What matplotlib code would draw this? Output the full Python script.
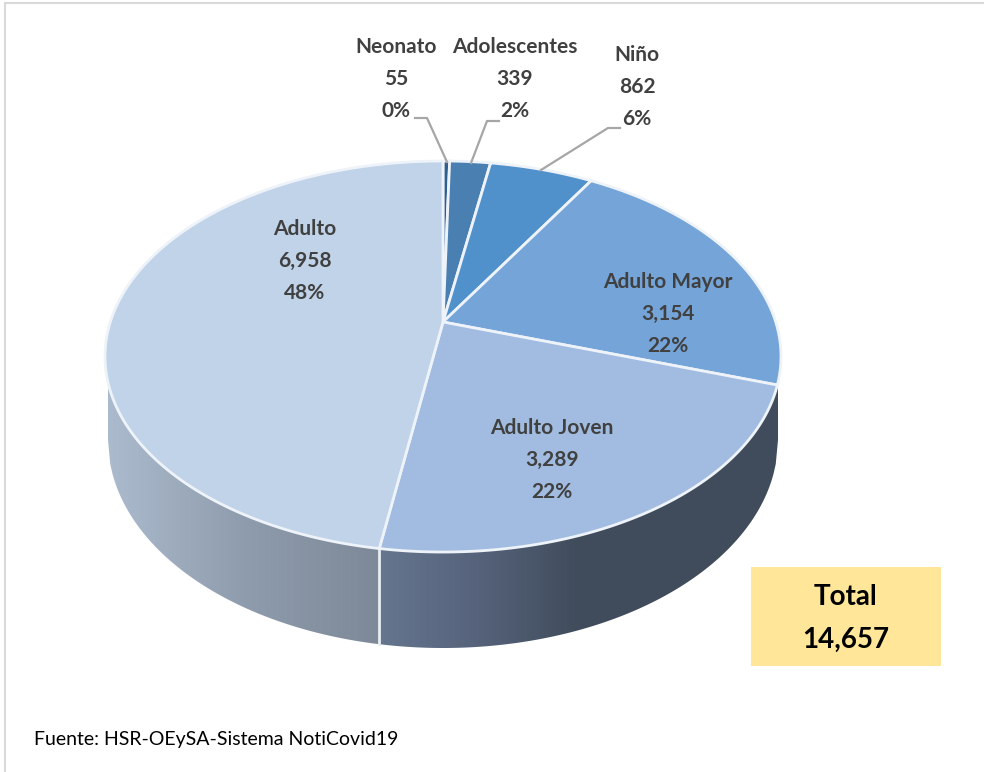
import numpy as np
import matplotlib
matplotlib.use('Agg')
import matplotlib.pyplot as plt
from matplotlib.colors import LinearSegmentedColormap
from matplotlib.patches import Polygon, Rectangle

# clockwise from the top of the pie
labels = ['Neonato', 'Adolescentes', 'Niño', 'Adulto Mayor', 'Adulto Joven', 'Adulto']
values = [55, 339, 862, 3154, 3289, 6958]
shown_values = ['55', '339', '862', '3,154', '3,289', '6,958']
shown_pct = ['0%', '2%', '6%', '22%', '22%', '48%']
colors = ['#2f5f8f', '#4a7fb2', '#5191cb', '#74a4d8', '#a1bce0', '#c0d3e8']
total_text = '14,657'
source = 'Fuente: HSR-OEySA-Sistema NotiCovid19'

plt.rcParams['font.family'] = ['Lato', 'DejaVu Sans']

# pie geometry in pixels, tilted with a perspective projection
cx, cy, s, persp, by = 443, 322, 332.7, 0.1765, -132.6
# bottom edge of the wall
wall_a, wall_cy, wall_b = 335, 440, 208


def project(theta):
    u, v = np.sin(theta), np.cos(theta)
    d = 1 + persp * v
    return cx + s * u / d, (cy + by * v) / d


fig = plt.figure(figsize=(9.84, 7.72), dpi=100)
ax = fig.add_axes([0, 0, 1, 1])

# walls
xs = np.linspace(-1, 1, 300)
wall_x = cx + wall_a * xs
wall_y = wall_cy + wall_b * np.sqrt(1 - xs ** 2)
wall_pts = np.column_stack([np.r_[wall_x, wall_x[-1], wall_x[0]], np.r_[wall_y, 356, 356]])
wall = Polygon(wall_pts, closed=True, fc='none', ec='none')
ax.add_patch(wall)

frac = np.cumsum([0] + values) / sum(values)
angles = 2 * np.pi * frac
split_x, split_y = project(angles[5])

left_cm = LinearSegmentedColormap.from_list('l', ['#abbbcd', '#8f9cad', '#7d8998'])
right_cm = LinearSegmentedColormap.from_list('r', ['#66768f', '#55627a', '#404c5b'])
grad = np.linspace(0, 1, 256).reshape(1, -1)
im1 = ax.imshow(grad, cmap=left_cm, extent=[cx - wall_a, split_x, 700, 300], aspect='auto', zorder=1)
im2 = ax.imshow(grad, cmap=right_cm, extent=[split_x, 580, 700, 300], aspect='auto', zorder=1)
im3 = ax.imshow(np.ones((1, 2)), cmap=LinearSegmentedColormap.from_list('d', ['#404c5b', '#404c5b']),
                extent=[580, cx + wall_a, 700, 300], aspect='auto', zorder=1)
for im in (im1, im2, im3):
    im.set_clip_path(wall)
ax.plot([split_x, split_x], [split_y, wall_cy + wall_b * np.sqrt(1 - ((split_x - cx) / wall_a) ** 2)],
        color='#e8edf3', lw=2, zorder=2)

# top face
for i in range(len(values)):
    t = np.linspace(angles[i], angles[i + 1], 200)
    px, py = project(t)
    pts = np.column_stack([np.r_[cx, px], np.r_[cy, py]])
    ax.add_patch(Polygon(pts, closed=True, fc=colors[i], ec='#eef3f9', lw=2, zorder=3))

# labels
label_pos = [(396, 47), (515, 47), (637, 55), (668, 282), (552, 428), (305, 229)]
for i in range(len(values)):
    x, y = label_pos[i]
    for k, txt in enumerate([labels[i], shown_values[i], shown_pct[i]]):
        ax.text(x, y + k * 32, txt, ha='center', va='center', fontsize=15,
                fontweight='bold', color='#404040', zorder=5)

# leader lines
leader_x = [[415, 427, 447], [499, 487, 471], [620, 608, 541]]
leader_y = [[118, 118, 162], [121, 121, 163], [128, 128, 170]]
for lx, ly in zip(leader_x, leader_y):
    ax.plot(lx, ly, color='#a6a6a6', lw=1.6, zorder=4)

# total box
ax.add_patch(Rectangle((751, 567), 190, 99, fc='#ffe699', ec='none', zorder=3))
ax.text(846, 597, 'Total', ha='center', va='center', fontsize=20, fontweight='bold', color='black', zorder=5)
ax.text(846, 640, total_text, ha='center', va='center', fontsize=20, fontweight='bold', color='black', zorder=5)

ax.text(34, 739, source, ha='left', va='center', fontsize=14, color='black', zorder=5)

# chart frame
ax.plot([5, 5, 984], [772, 3, 3], color='#d9d9d9', lw=1.5, zorder=0)

ax.set_xlim(0, 984)
ax.set_ylim(772, 0)
ax.axis('off')
fig.savefig('out.png', dpi=100)
